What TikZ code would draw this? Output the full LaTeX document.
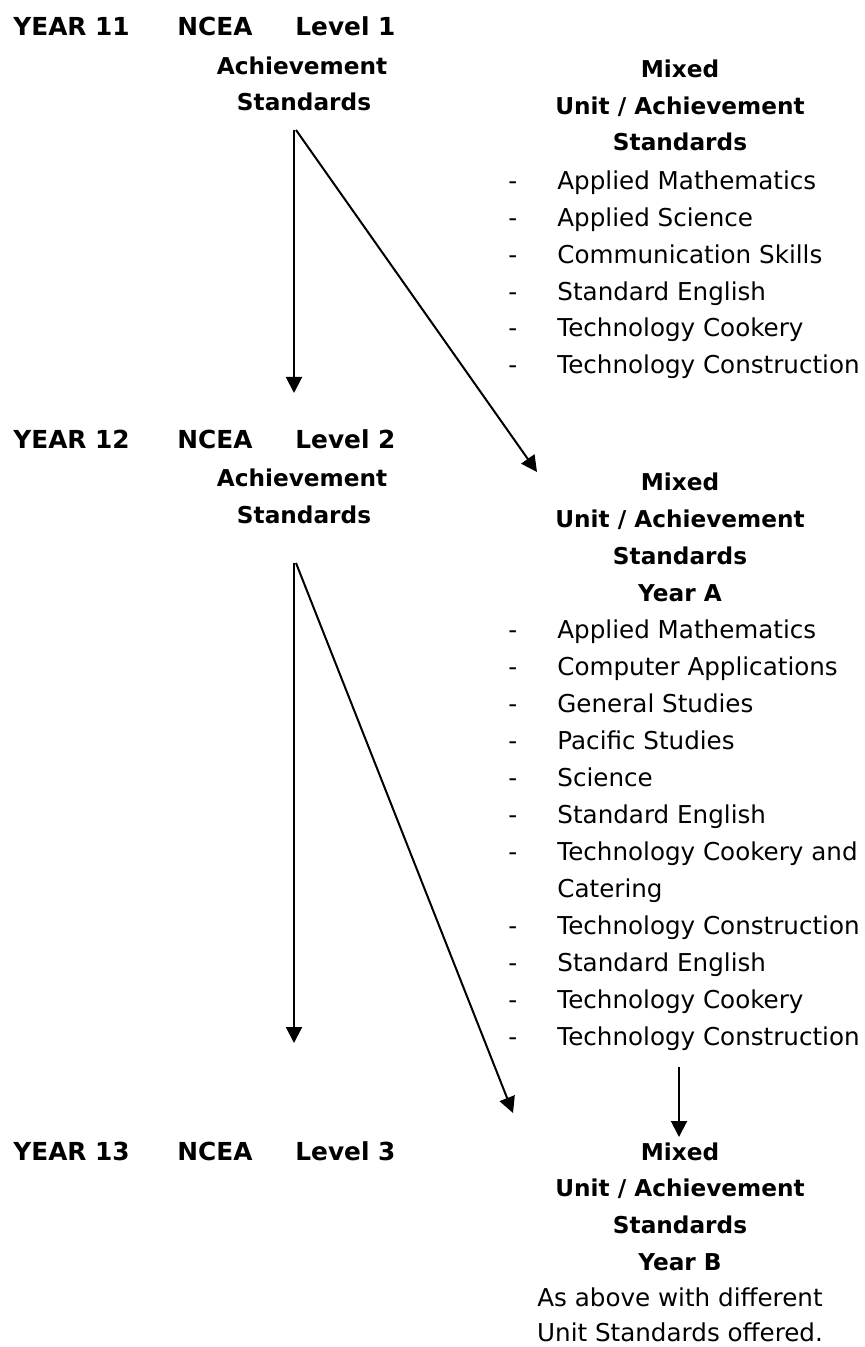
\documentclass[tikz,border=0pt]{standalone}
\usepackage{fontspec}
\setmainfont{DejaVu Sans}
\usetikzlibrary{arrows.meta}

\newcommand{\chartfont}{\fontsize{11.6}{18.5}\selectfont}
\newcommand{\headfont}{\fontsize{12.4}{18.5}\selectfont}
\newcommand{\listfont}{\fontsize{12.3}{18.5}\selectfont}
\newcommand{\dashitem}[1]{\makebox[24.5pt][l]{-}#1}
\tikzset{
  yearhead/.style={anchor=base west, inner sep=0pt, font=\headfont\bfseries},
  title/.style={anchor=base, inner sep=0pt, font=\chartfont\bfseries},
  entry/.style={anchor=base west, inner sep=0pt, font=\listfont},
  note/.style={anchor=base, inner sep=0pt, font=\listfont},
  flow/.style={-{Triangle[length=8pt,width=8pt]}, line width=1pt},
}

\begin{document}
\begin{tikzpicture}[x=0.5pt,y=-0.5pt]
\useasboundingbox (0,0) rectangle (865,1347);

% year 11
\node[yearhead] (yr11) at (13,36) {YEAR 11};
\node[yearhead] (ncea11) at (177,36) {NCEA};
\node[yearhead] (lvl11) at (295,36) {Level 1};
\node[title] (ach11) at (302,75) {Achievement};
\node[title] (std11) at (304,111) {Standards};

\node[title] (mix11) at (680,78) {Mixed};
\node[title] (unit11) at (680,115) {Unit / Achievement};
\node[title] (ustd11) at (680,151) {Standards};
\node[entry] (a1) at (508,190) {\dashitem{Applied Mathematics}};
\node[entry] (a2) at (508,226.7) {\dashitem{Applied Science}};
\node[entry] (a3) at (508,263.4) {\dashitem{Communication Skills}};
\node[entry] (a4) at (508,300.1) {\dashitem{Standard English}};
\node[entry] (a5) at (508,336.8) {\dashitem{Technology Cookery}};
\node[entry] (a6) at (508,373.5) {\dashitem{Technology Construction}};

% year 12
\node[yearhead] (yr12) at (13,449) {YEAR 12};
\node[yearhead] (ncea12) at (177,449) {NCEA};
\node[yearhead] (lvl12) at (295,449) {Level 2};
\node[title] (ach12) at (302,486) {Achievement};
\node[title] (std12) at (304,523) {Standards};

\node[title] (mix12) at (680,490) {Mixed};
\node[title] (unit12) at (680,527) {Unit / Achievement};
\node[title] (ustd12) at (680,564) {Standards};
\node[title] (yra) at (680,601) {Year A};
\node[entry] (b1) at (508,638) {\dashitem{Applied Mathematics}};
\node[entry] (b2) at (508,675) {\dashitem{Computer Applications}};
\node[entry] (b3) at (508,712) {\dashitem{General Studies}};
\node[entry] (b4) at (508,749) {\dashitem{Pacific Studies}};
\node[entry] (b5) at (508,786) {\dashitem{Science}};
\node[entry] (b6) at (508,823) {\dashitem{Standard English}};
\node[entry] (b7) at (508,860) {\dashitem{Technology Cookery and}};
\node[entry] (b7b) at (557,897) {Catering};
\node[entry] (b8) at (508,934) {\dashitem{Technology Construction}};
\node[entry] (b9) at (508,971) {\dashitem{Standard English}};
\node[entry] (b10) at (508,1008) {\dashitem{Technology Cookery}};
\node[entry] (b11) at (508,1045) {\dashitem{Technology Construction}};

% year 13
\node[yearhead] (yr13) at (13,1160) {YEAR 13};
\node[yearhead] (ncea13) at (177,1160) {NCEA};
\node[yearhead] (lvl13) at (295,1160) {Level 3};

\node[title] (mix13) at (680,1160) {Mixed};
\node[title] (unit13) at (680,1196) {Unit / Achievement};
\node[title] (ustd13) at (680,1233) {Standards};
\node[title] (yrb) at (680,1270) {Year B};
\node[note] (asabove) at (680,1306) {As above with different};
\node[note] (offered) at (680,1341) {Unit Standards offered.};

% arrows
\coordinate (s1v) at (294,130);
\coordinate (e1v) at (294,393);
\coordinate (s1d) at (296,130);
\coordinate (e1d) at (537,472);
\coordinate (s2v) at (294,563);
\coordinate (e2v) at (294,1043);
\coordinate (s2d) at (296,563);
\coordinate (e2d) at (513,1113);
\coordinate (s3) at (679,1067);
\coordinate (e3) at (679,1137);
\draw[flow] (s1v) -- (e1v);
\draw[flow] (s1d) -- (e1d);
\draw[flow] (s2v) -- (e2v);
\draw[flow] (s2d) -- (e2d);
\draw[flow] (s3) -- (e3);

\end{tikzpicture}
\end{document}
